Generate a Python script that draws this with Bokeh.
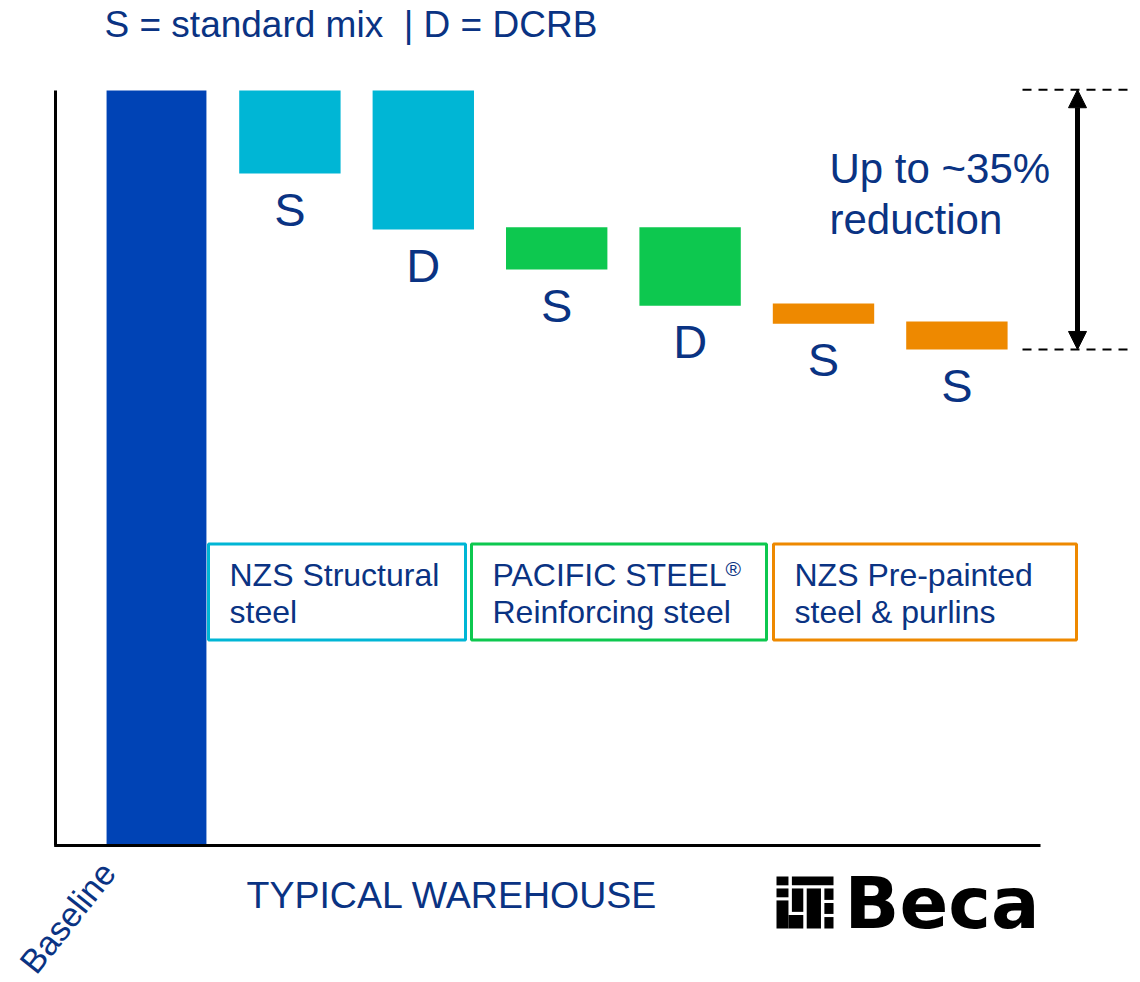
from bokeh.plotting import figure
from bokeh.models import Range1d, Arrow, NormalHead, ColumnDataSource
from bokeh.core.properties import value
from bokeh.embed import file_html
from bokeh.resources import INLINE

# ---------------- data ----------------
baseline_label = "Baseline"
baseline_value = 100.0
step_labels = ["S", "D", "S", "D", "S", "S"]
step_top = [100.0, 100.0, 81.9, 81.9, 71.8, 69.4]
step_bottom = [89.0, 81.6, 76.3, 71.5, 69.1, 65.7]
step_group = [0, 0, 1, 1, 2, 2]
group_lines = [["NZS Structural", "steel"],
               ["PACIFIC STEEL", "Reinforcing steel"],
               ["NZS Pre-painted", "steel & purlins"]]
group_colors = ["#00B6D5", "#0DC84F", "#EE8900"]
baseline_color = "#0043B5"
title_text = "S = standard mix\u00a0 | D = DCRB"
xaxis_title = "TYPICAL WAREHOUSE"
note_lines = ["Up to ~35%", "reduction"]
logo_text = "Beca"

TXT = "#0A3383"
FONT = value("Liberation Sans")

# ---------------- layout helpers (page px -> data) ----------------
SLOT_PX = 133.4
X0_PX = 156.0
UNIT_PX = 7.55
BASE_PX = 845.0
OFF = 0


def X(px):
    return (px - X0_PX) / SLOT_PX


def Y(py):
    return (BASE_PX - py) / UNIT_PX


W, H = 1138, 980
p = figure(width=W, height=H, x_range=Range1d(X(OFF), X(OFF + W)),
           y_range=Range1d(Y(OFF + H), Y(OFF)), output_backend="svg",
           toolbar_location=None, x_axis_location=None, y_axis_location=None,
           min_border=0, title=None)
p.grid.visible = False
p.outline_line_color = None
p.background_fill_color = "white"
p.border_fill_color = "white"

BAR_W = 0.76
n = len(step_labels)
xs = list(range(1, n + 1))
colors = [group_colors[g] for g in step_group]

# baseline bar
p.vbar(x=[0], top=[baseline_value], bottom=[0], width=BAR_W * 0.985,
       fill_color=baseline_color, line_color=None)

# waterfall steps
src = ColumnDataSource(dict(x=xs, top=step_top, bottom=step_bottom,
                            color=colors, label=step_labels))
p.vbar(x="x", top="top", bottom="bottom", width=BAR_W, fill_color="color",
       line_color=None, source=src)
p.text(x="x", y="bottom", text="label", source=src, y_offset=36,
       text_font=FONT, text_font_size="47px", text_color=TXT,
       text_align="center", text_baseline="middle")

# axes lines
ax_left = X(55)
ax_right = X(1040)
p.line(x=[ax_left, ax_left], y=[0, baseline_value], line_color="black", line_width=3)
p.line(x=[ax_left - 0.01, ax_right], y=[0, 0], line_color="black", line_width=3)

# reference dashed lines + arrow
ref_top = max(step_top)
ref_bot = min(step_bottom)
p.line(x=[X(1022), X(1127)], y=[ref_top + 0.1, ref_top + 0.1], line_color="black",
       line_width=2, line_dash="9 7")
p.line(x=[X(1022), X(1127)], y=[ref_bot, ref_bot], line_color="black",
       line_width=2, line_dash="9 7")
ax_arrow = X(1077)
p.add_layout(Arrow(x_start=ax_arrow, y_start=ref_bot, x_end=ax_arrow, y_end=ref_top + 0.1,
                   line_width=5, line_color="black",
                   start=NormalHead(size=18, fill_color="black", line_color="black"),
                   end=NormalHead(size=18, fill_color="black", line_color="black")))
p.text(x=[X(829), X(829)], y=[Y(168), Y(219)], text=note_lines, text_font=FONT,
       text_font_size="42px", text_color=TXT, text_align="left",
       text_baseline="middle")

# title + x title
p.text(x=[X(104)], y=[Y(24)], text=[title_text], text_font=FONT,
       text_font_size="37px", text_color=TXT, text_align="left",
       text_baseline="middle")
p.text(x=[X(246)], y=[Y(894)], text=[xaxis_title], text_font=FONT,
       text_font_size="37.5px", text_color=TXT, text_align="left",
       text_baseline="middle")
p.text(x=[X(67)], y=[Y(917)], text=[baseline_label], text_font=FONT,
       text_font_size="34px", text_color=TXT, text_align="center",
       text_baseline="middle", angle=0.90)

# group boxes
box_l = [208, 471, 773]
box_r = [465, 766, 1076]
box_t, box_b = 543.5, 639.5
for i, lines in enumerate(group_lines):
    p.quad(left=[X(box_l[i])], right=[X(box_r[i])], top=[Y(box_t)], bottom=[Y(box_b)],
           fill_color=None, line_color=group_colors[i], line_width=3)
    tx = X(box_l[i] + 21)
    p.text(x=[tx, tx], y=[Y(574), Y(611)], text=lines, text_font=FONT,
           text_font_size="32px", text_color=TXT, text_align="left",
           text_baseline="middle")
# registered mark
p.text(x=[X(725)], y=[Y(568)], text=["\u00ae"], text_font=FONT, text_font_size="21px",
       text_color=TXT, text_align="left", text_baseline="middle")

# logo
ix0, ix1, iy0, iy1 = 776, 833, 876, 928
blocks = [(0, 0.21, 0, 0.17), (0.27, 1.0, 0, 0.17), (0, 0.21, 0.23, 0.40),
          (0.27, 0.47, 0.23, 0.68), (0.53, 0.78, 0.23, 1.0), (0.84, 1.0, 0.23, 0.45),
          (0.84, 1.0, 0.51, 0.72), (0.84, 1.0, 0.78, 1.0), (0, 0.21, 0.46, 1.0),
          (0.21, 0.47, 0.74, 1.0)]
p.quad(left=[X(ix0 + b[0] * (ix1 - ix0)) for b in blocks],
       right=[X(ix0 + b[1] * (ix1 - ix0)) for b in blocks],
       top=[Y(iy0 + b[2] * (iy1 - iy0)) for b in blocks],
       bottom=[Y(iy0 + b[3] * (iy1 - iy0)) for b in blocks],
       fill_color="black", line_color=None)
p.text(x=[X(844)], y=[Y(902)], text=[logo_text], text_font=value("DejaVu Sans"),
       text_font_style="bold", text_font_size="72px", text_color="black",
       text_align="left", text_baseline="middle")

open("out.html", "w").write(file_html(p, INLINE))
